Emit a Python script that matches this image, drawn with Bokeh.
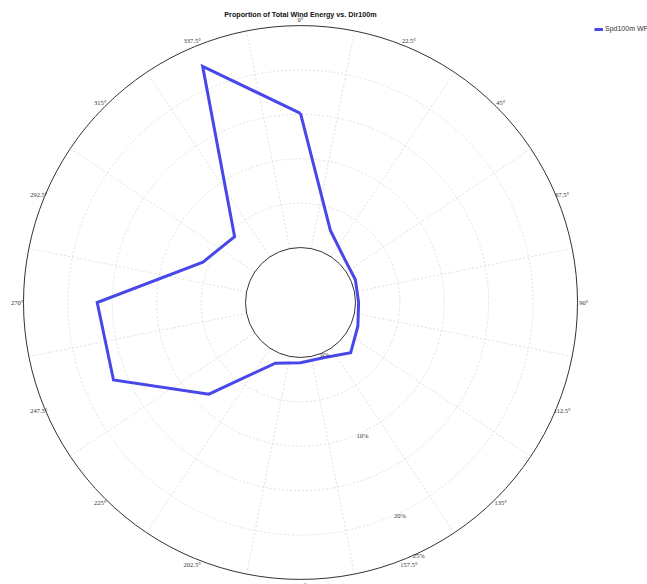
import numpy as np
from bokeh.plotting import figure
from bokeh.models import Range1d, Label, Legend, LegendItem
from bokeh.embed import file_html
from bokeh.resources import INLINE

# ---- data ----
directions = [0, 22.5, 45, 67.5, 90, 112.5, 135, 157.5, 180, 202.5, 225, 247.5, 270, 292.5, 315, 337.5]
dir_labels = ["0°", "22.5°", "45°", "67.5°", "90°", "112.5°", "135°", "157.5°",
              "180°", "202.5°", "225°", "247.5°", "270°", "292.5°", "315°", "337.5°"]
wpd = [15.1, 2.6, 0.8, 0.5, 0.35, 0.8, 1.8, 0.55, 0.6, 1.2, 8.4, 16.6, 16.7, 5.7, 4.3, 22.6]
grid_rings = [5, 10, 15, 20]
radial_ticks = [0, 10, 20, 25]
radial_tick_labels = ["0%", "10%", "20%", "25%"]
r_max = 25
series_name = "Spd100m WPD"
title = "Proportion of Total Wind Energy vs. Dir100m"

# ---- geometry ----
W, H = 647, 584
px = 8.88                  # pixels per percent
hole = 55 / px             # inner hole radius in percent units
cx, cy = 300, 302          # centre in figure pixels
x0 = -cx / px
x1 = (W - cx) / px
y1 = cy / px
y0 = -(H - cy) / px

def pol(r, deg):
    t = np.deg2rad(np.asarray(deg, dtype=float))
    rr = np.asarray(r, dtype=float) + hole
    return rr * np.sin(t), rr * np.cos(t)

p = figure(width=W, height=H, x_range=Range1d(x0, x1), y_range=Range1d(y0, y1),
           output_backend="svg", toolbar_location=None, min_border=0,
           outline_line_color=None, background_fill_color="white")
p.axis.visible = False
p.grid.visible = False

# spokes (sector boundaries)
spoke_angles = [d + 11.25 for d in directions]
sx0, sy0 = pol([0] * len(spoke_angles), spoke_angles)
sx1, sy1 = pol([r_max] * len(spoke_angles), spoke_angles)
p.segment(sx0, sy0, sx1, sy1, line_color="#e0e0e0", line_width=1, line_dash="2 2")

# dashed rings
p.circle(x=[0] * len(grid_rings), y=[0] * len(grid_rings),
         radius=[g + hole for g in grid_rings], fill_color=None,
         line_color="#e0e0e0", line_width=1, line_dash="2 2")
# inner and outer rings
p.circle(x=[0, 0], y=[0, 0], radius=[hole, r_max + hole], fill_color=None,
         line_color="#333333", line_width=1)

# series
lx, ly = pol(wpd + wpd[:1], directions + directions[:1])
ln = p.line(lx, ly, line_color="#4848e8", line_width=3, line_join="miter")

# direction labels
tx, ty = pol([r_max + 0.7] * len(directions), directions)
p.text(tx, ty, text=dir_labels, text_font_size="6.5px", text_color="#333333",
       text_align="center", text_baseline="middle", text_font="Liberation Sans")

# radial labels
rx, ry = pol([v + 0.3 for v in radial_ticks], [155] * len(radial_ticks))
p.text(rx, ry, text=radial_tick_labels, text_font_size="6.5px", text_color="#333333",
       text_align="center", text_baseline="middle", text_font="Liberation Sans")

# title
p.add_layout(Label(x=cx, y=H - 14, x_units="screen", y_units="screen", text=title,
                   text_font_size="7.2px", text_font_style="bold", text_color="#111111",
                   text_align="center", text_baseline="middle", text_font="Liberation Sans"))

legend = Legend(items=[LegendItem(label=series_name, renderers=[ln])],
                location=(594, H - 29 - 3), padding=0, margin=0, spacing=0,
                glyph_width=9, glyph_height=6, label_height=6, label_standoff=2,
                label_text_font_size="7px", label_text_color="#333333",
                label_text_font="Liberation Sans",
                border_line_alpha=0, background_fill_alpha=0)
p.add_layout(legend)

open("out.html", "w").write(file_html(p, INLINE))
